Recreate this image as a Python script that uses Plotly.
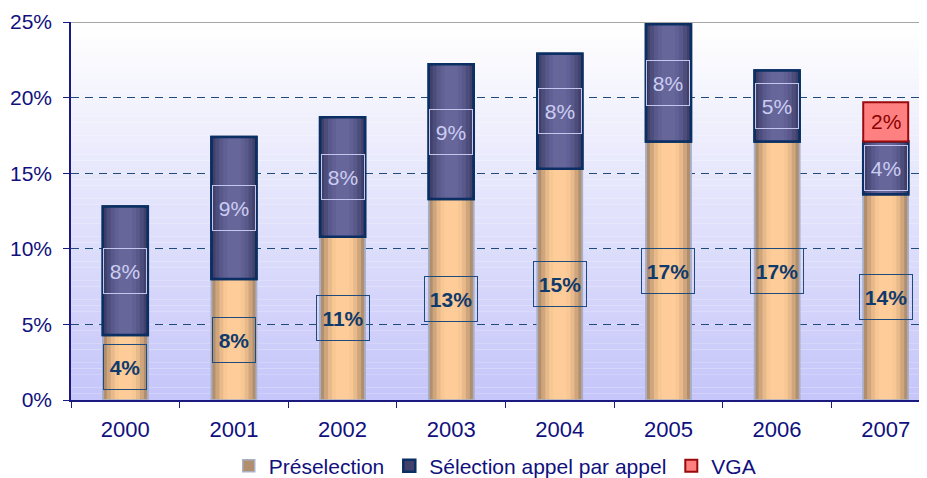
import numpy as np
import plotly.graph_objects as go

years = ["2000", "2001", "2002", "2003", "2004", "2005", "2006", "2007"]
preselection = [4.3, 8.0, 10.8, 13.3, 15.3, 17.1, 17.1, 13.6]
selection = [8.5, 9.4, 7.9, 8.9, 7.6, 7.75, 4.7, 3.5]
vga = [0, 0, 0, 0, 0, 0, 0, 2.6]

presel_labels = ["4%", "8%", "11%", "13%", "15%", "17%", "17%", "14%"]
sel_labels = ["8%", "9%", "8%", "9%", "8%", "8%", "5%", "4%"]
vga_labels = ["", "", "", "", "", "", "", "2%"]

FONT = "Liberation Sans, Arial, sans-serif"
NAVY = "#10107e"
BAR_W = 0.414

pre = np.array(preselection)
sel = np.array(selection)
vg = np.array(vga)
base_sel = pre
base_vga = pre + sel

fig = go.Figure()


def add_cylinder(name, y, base, shades, line_color, line_width):
    # stepped shading, dark edges -> light centre
    widths = np.linspace(BAR_W, BAR_W * 0.3, len(shades))
    for i, (w, c) in enumerate(zip(widths, shades)):
        fig.add_trace(go.Bar(
            x=years, y=y, base=base, width=w, name=name,
            marker=dict(color=c, line=dict(color=line_color if i == 0 else c,
                                           width=line_width if i == 0 else 0)),
            showlegend=(i == 0), hoverinfo="skip",
        ))
    # outline on top
    fig.add_trace(go.Bar(
        x=years, y=y, base=base, width=BAR_W, name=name,
        marker=dict(color="rgba(0,0,0,0)", line=dict(color=line_color, width=line_width)),
        showlegend=False, hoverinfo="skip",
    ))


add_cylinder("Préselection", preselection, [0] * len(years),
             ["#b08e6e", "#cfa57c", "#e8b98a", "#f7c794", "#fdcc98"], "#a9b0c6", 1.5)
add_cylinder("Sélection appel par appel", selection, base_sel.tolist(),
             ["#40406a", "#4d4d7c", "#58588a", "#606094", "#66669a"], "#0b2f62", 2.5)

sel_vga = [v if v > 0 else None for v in vga]
fig.add_trace(go.Bar(
    x=years, y=sel_vga, base=base_vga.tolist(), width=BAR_W, name="VGA",
    marker=dict(color="#ff8080", line=dict(color="#9a0a0a", width=2)),
    hoverinfo="skip",
))

# data labels (x given as category index)
for i, yr in enumerate(years):
    w = 40 if len(presel_labels[i]) == 2 else 50
    fig.add_annotation(
        x=i, y=float(pre[i] / 2), text="<b>%s</b>" % presel_labels[i], showarrow=False,
        font=dict(family=FONT, size=21, color="#0f3a6c"),
        bordercolor="#1f4a7c", borderwidth=1, borderpad=1, width=w, height=42,
    )
    fig.add_annotation(
        x=i, y=float(base_sel[i] + sel[i] / 2), text=sel_labels[i], showarrow=False,
        font=dict(family=FONT, size=21, color="#cccdf2"),
        bordercolor="#c4c6ee", borderwidth=1, borderpad=1, width=40, height=42,
    )
    if vga_labels[i]:
        fig.add_annotation(
            x=i, y=float(base_vga[i] + vg[i] / 2), text=vga_labels[i], showarrow=False,
            font=dict(family=FONT, size=21, color="#8a0000"),
        )

# background gradient of the plot area
n_bands = 60
top_c = np.array([255, 255, 255])
bot_c = np.array([198, 198, 250])
for k in range(n_bands):
    t = k / (n_bands - 1)
    c = (top_c * (1 - t) + bot_c * t).astype(int)
    fig.add_shape(type="rect", xref="paper", yref="paper",
                  x0=0, x1=1, y0=1 - (k + 1) / n_bands, y1=1 - k / n_bands,
                  fillcolor="rgb(%d,%d,%d)" % tuple(c), line=dict(width=0), layer="below")

# grey top border
fig.add_shape(type="line", xref="paper", yref="y", x0=0, x1=1, y0=25, y1=25,
              line=dict(color="#a6a6a6", width=2), layer="above")

# page body has an 8px margin, so the figure is a bit smaller than the window
fig.update_layout(
    barmode="overlay",
    width=919, height=470,
    margin=dict(l=63, r=0, t=14, b=78, autoexpand=False),
    paper_bgcolor="white", plot_bgcolor="white",
    font=dict(family=FONT, size=21, color=NAVY),
    legend=dict(orientation="h", x=0.495, xanchor="center", y=-0.175, yanchor="middle",
                font=dict(family=FONT, size=21, color=NAVY), itemwidth=30,
                traceorder="normal"),
)
fig.update_xaxes(
    type="category", range=[-0.5, 7.38], tickson="boundaries", automargin=False,
    showline=True, linecolor="#1a1a80", linewidth=1.5,
    ticks="outside", ticklen=6, tickcolor="#1a1a80", showgrid=False,
    ticklabelstandoff=9, tickfont=dict(size=22, color=NAVY),
)
fig.update_yaxes(
    range=[0, 25], dtick=5, ticksuffix="%", automargin=False,
    showline=True, linecolor="#1a1a80", linewidth=1.5,
    ticks="outside", ticklen=6, tickcolor="#1a1a80",
    showgrid=True, gridcolor="#1f4a7c", gridwidth=1, griddash="8px,6px",
    zeroline=False, ticklabelstandoff=7, tickfont=dict(size=21, color=NAVY),
)

fig.write_html("out.html")
